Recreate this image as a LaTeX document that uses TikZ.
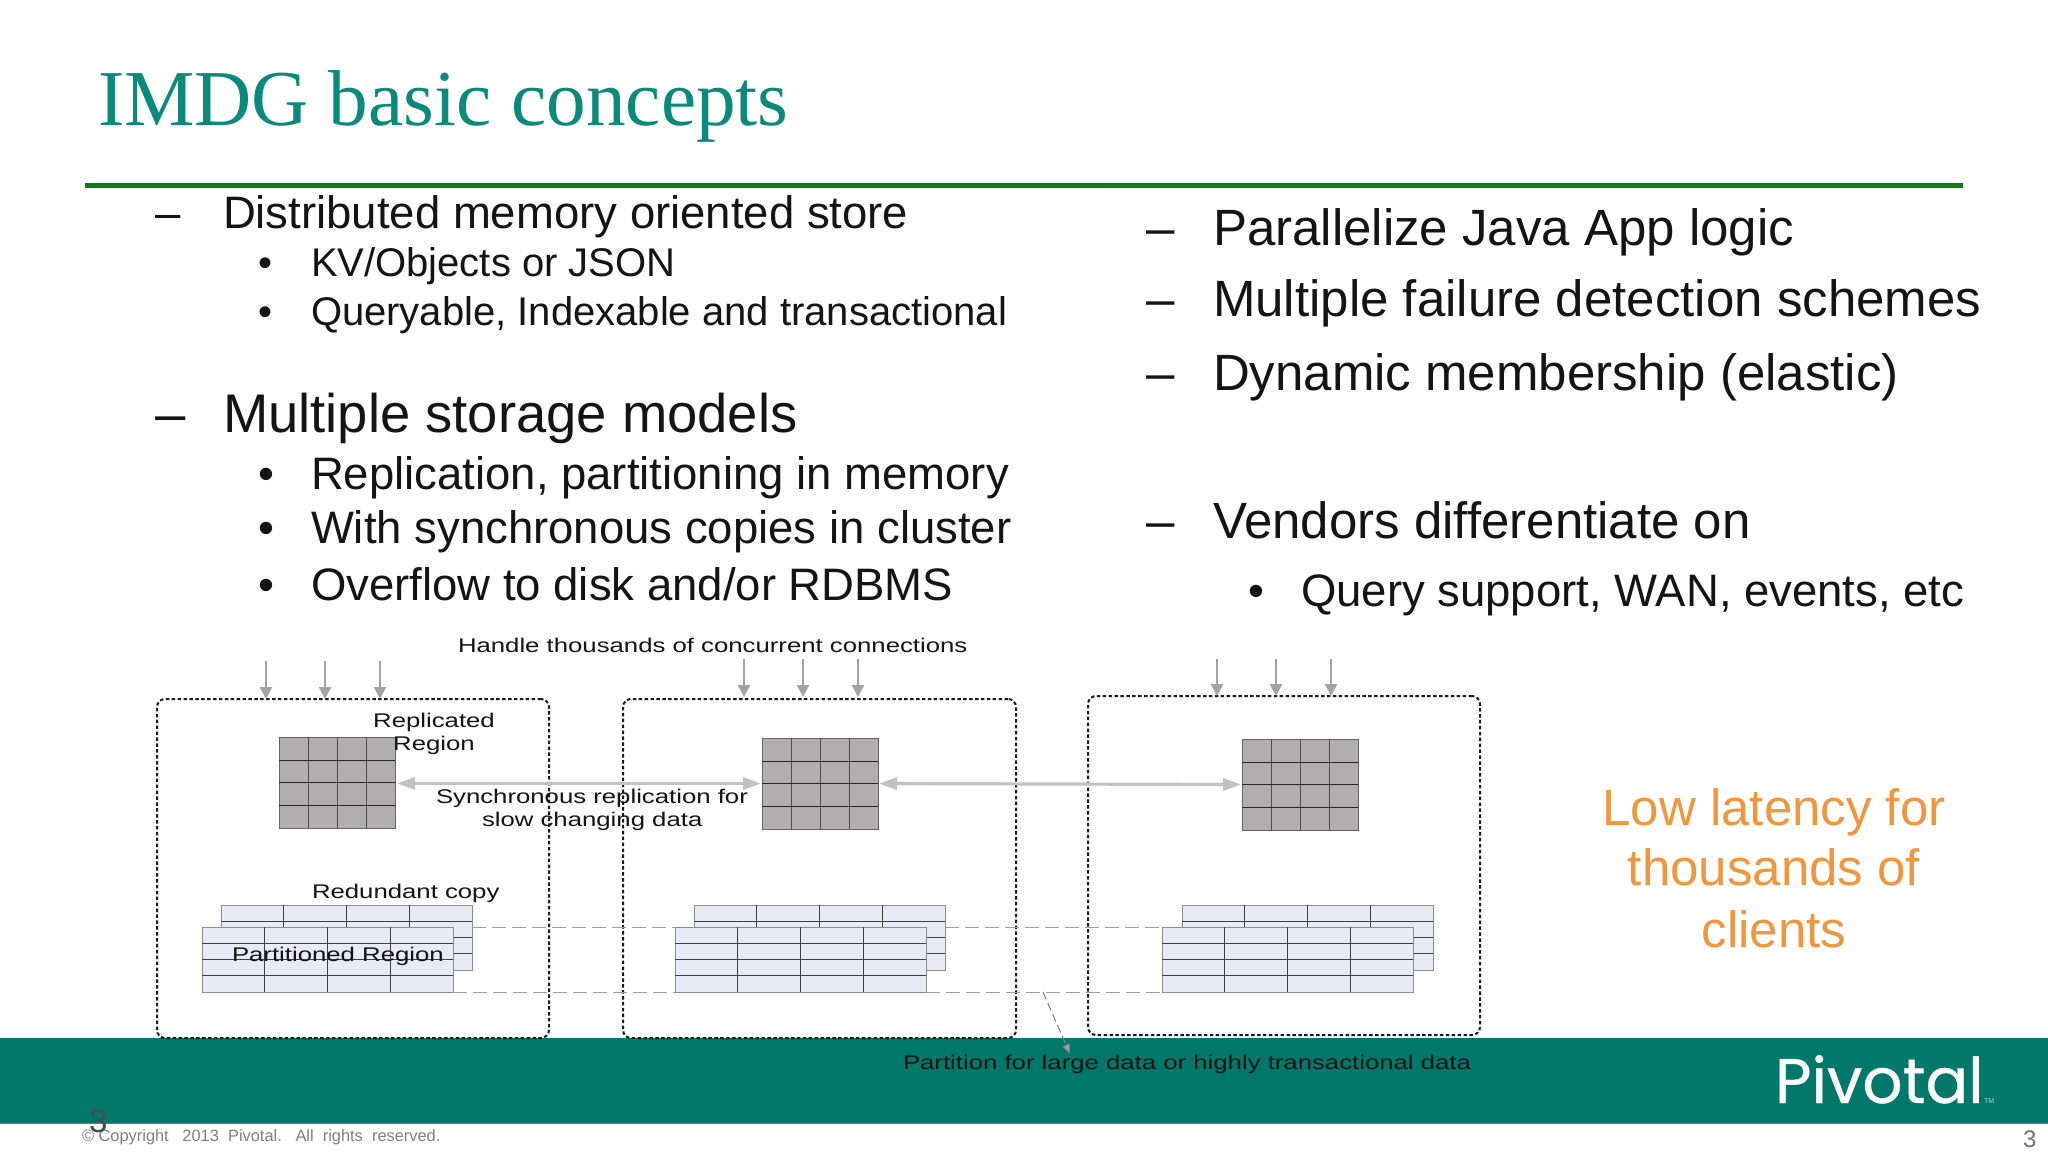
\documentclass[tikz,border=0pt]{standalone}
\usepackage{fontspec}
\setmainfont{Liberation Sans}
\newfontfamily\serifT{Liberation Serif}
\newfontfamily\wideF[FakeStretch=1.3]{Liberation Sans}
\newfontfamily\logoF[FakeBold=0.6]{Poppins}
\usetikzlibrary{arrows.meta,positioning}
\definecolor{titleteal}{HTML}{0B8A7C}
\definecolor{barteal}{HTML}{02786B}
\definecolor{rulegreen}{HTML}{0C7F12}
\definecolor{orangetxt}{HTML}{F0963F}
\definecolor{gridfill}{HTML}{B0AEAF}
\definecolor{tabfill}{HTML}{E8EBF5}
\definecolor{arrowgray}{HTML}{A3A3A3}
\definecolor{syncgray}{HTML}{C2C2C2}
\newcommand{\fs}[1]{\fontsize{#1}{#1}\selectfont}
\tikzset{
  x=1pt,y=-1pt,
  txt/.style={anchor=base west,inner sep=0pt,outer sep=0pt,text=black!92},
  ctxt/.style={anchor=base,inner sep=0pt,outer sep=0pt,text=black!92},
  l1/.style={txt,font=\fs{45.5}},
  l1b/.style={txt,font=\fs{54.4}},
  l1r/.style={txt,font=\fs{51}},
  l2/.style={txt,font=\fs{40}},
  l2b/.style={txt,font=\fs{45.5}},
  dia/.style={txt,font=\wideF\fs{19.8}},
  diac/.style={ctxt,font=\wideF\fs{19.8}},
  server/.style={draw=black!90,line width=2pt,dash pattern=on 3.5pt off 2.4pt,rounded corners=8pt,outer sep=0pt},
  conn/.style={draw=arrowgray,line width=2.4pt,-{Triangle[length=12pt,width=12pt]}},
  sync/.style={draw=syncgray,line width=3.2pt,{Triangle[length=18pt,width=12pt,fill=syncgray]}-{Triangle[length=18pt,width=12pt,fill=syncgray]}},
  part/.style={draw=black!38,line width=1pt,dash pattern=on 14pt off 6pt},
  gridbox/.style={draw=black!60,fill=gridfill,line width=1pt,minimum width=116pt,minimum height=91pt,inner sep=0pt,outer sep=0pt,anchor=north west},
  tabbox/.style={draw=black!45,fill=tabfill,line width=1pt,minimum width=251pt,minimum height=65pt,inner sep=0pt,outer sep=0pt,anchor=north west},
}
\newcommand{\gridat}[3]{%
  \node[gridbox] (#1) at (#2,#3) {};
  \foreach \d in {29,58,87}{\draw[black!70,line width=1pt] ([xshift=\d pt]#1.north west) -- ([xshift=\d pt]#1.south west);}
  \foreach \d in {23,45,68}{\draw[black!85,line width=1pt] ([yshift=-\d pt]#1.north west) -- ([yshift=-\d pt]#1.north east);}
}
\newcommand{\tabat}[3]{%
  \node[tabbox] (#1) at (#2,#3) {};
  \foreach \d in {62.75,125.5,188.25}{\draw[black!75,line width=1pt] ([xshift=\d pt]#1.north west) -- ([xshift=\d pt]#1.south west);}
  \foreach \d in {16.5,32,48.5}{\draw[black!75,line width=1pt] ([yshift=-\d pt]#1.north west) -- ([yshift=-\d pt]#1.north east);}
}
\begin{document}
\begin{tikzpicture}
\useasboundingbox (0,0) rectangle (2048,1152);
\fill[white] (0,0) rectangle (2048,1152);
\fill[black!0.5] (78,188) rectangle (1100,1038);
% title and rule
\node[txt,font=\serifT\fs{79.2},text=titleteal] (title) at (98,125) {IMDG basic concepts};
\fill[rulegreen] (85,183) rectangle (1963,188);
% left column
\node[l1] (d1) at (155,228) {–};
\node[l1] (t1) at (223,228) {Distributed memory oriented store};
\node[l2] (b1) at (258,276) {•};
\node[l2] (s1) at (311,276) {KV/Objects or JSON};
\node[l2] (b2) at (258,325) {•};
\node[l2] (s2) at (311,325) {Queryable, Indexable and transactional};
\node[l1b] (d2) at (155,432) {–};
\node[l1b] (t2) at (223,432) {Multiple storage models};
\node[l2b] (b3) at (258,489) {•};
\node[l2b] (s3) at (311,489) {Replication, partitioning in memory};
\node[l2b] (b4) at (258,543) {•};
\node[l2b] (s4) at (311,543) {With synchronous copies in cluster};
\node[l2b] (b5) at (258,600) {•};
\node[l2b] (s5) at (311,600) {Overflow to disk and/or RDBMS};
% right column
\node[l1r] (d3) at (1146,245) {–};
\node[l1r] (r1) at (1213,245) {Parallelize Java App logic};
\node[l1r] (d4) at (1146,316) {–};
\node[l1r] (r2) at (1213,316) {Multiple failure detection schemes};
\node[l1r] (d5) at (1146,390) {–};
\node[l1r] (r3) at (1213,390) {Dynamic membership (elastic)};
\node[l1r] (d6) at (1146,538) {–};
\node[l1r] (r4) at (1213,538) {Vendors differentiate on};
\node[l2b] (b6) at (1248,606) {•};
\node[l2b] (r5) at (1301,606) {Query support, WAN, events, etc};
% bar
\fill[barteal] (0,1038) rectangle (2048,1123);
\fill[black!0!cyan!40!barteal] (0,1123) rectangle (2048,1124);
% grids and tables
\gridat{g1}{279}{737}
\gridat{g2}{762}{738}
\gridat{g3}{1242}{739}
\tabat{bk1}{221}{905}
\tabat{fr1}{202}{927}
\tabat{bk2}{694}{905}
\tabat{fr2}{675}{927}
\tabat{bk3}{1182}{905}
\tabat{fr3}{1162}{927}
% servers
\node[server,minimum width=392pt,minimum height=339pt,inner sep=0pt,anchor=north west] (sv1) at (157,699) {};
\node[server,minimum width=393pt,minimum height=339pt,inner sep=0pt,anchor=north west] (sv2) at (623,699) {};
\node[server,minimum width=392pt,minimum height=339pt,inner sep=0pt,anchor=north west] (sv3) at (1088,696) {};
% client arrows
\coordinate (c11) at (266,661); \coordinate (c12) at (325,661); \coordinate (c13) at (380,661);
\coordinate (c21) at (744,659); \coordinate (c22) at (803,659); \coordinate (c23) at (858,659);
\coordinate (c31) at (1217,659); \coordinate (c32) at (1276,659); \coordinate (c33) at (1331,659);
\draw[conn] (c11) -- (sv1.north -| c11);
\draw[conn] (c12) -- (sv1.north -| c12);
\draw[conn] (c13) -- (sv1.north -| c13);
\draw[conn] (c21) -- ([yshift=2pt]sv2.north -| c21);
\draw[conn] (c22) -- ([yshift=2pt]sv2.north -| c22);
\draw[conn] (c23) -- ([yshift=2pt]sv2.north -| c23);
\draw[conn] (c31) -- (sv3.north -| c31);
\draw[conn] (c32) -- (sv3.north -| c32);
\draw[conn] (c33) -- (sv3.north -| c33);
% sync arrows
\draw[sync] ([xshift=2pt,yshift=-1pt]g1.east) -- ([xshift=-1pt]g2.west);
\draw[sync] ([xshift=1pt]g2.east) -- ([xshift=-1pt,yshift=0pt]g3.west);
% partition dashes
\draw[part] (bk1.east |- fr1.north) -- (fr2.north west);
\draw[part] (bk2.east |- fr2.north) -- (fr3.north west);
\draw[part] (fr1.south east) -- (fr2.south west);
\draw[part] (fr2.south east) -- (fr3.south west);
\coordinate (pk) at (1043,992);
\coordinate (pe) at (1070,1054);
\draw[draw=black!50,line width=1pt,dash pattern=on 8pt off 4pt,-{Triangle[length=10pt,width=8pt,fill=arrowgray]}] (pk) -- (pe);
% diagram labels
\node[dia] (lh) at (458,652) {Handle thousands of concurrent connections};
\node[diac] (lr1) at (434,727) {Replicated};
\node[diac] (lr2) at (434,750) {Region};
\node[dia] (ls1) at (436,803) {Synchronous replication for};
\node[dia] (ls2) at (482,826) {slow changing data};
\node[dia] (lc) at (312,898) {Redundant copy};
\node[dia] (lp) at (232,961) {Partitioned Region};
\node[dia] (lf) at (903,1069) {Partition for large data or highly transactional data};
% orange
\node[ctxt,font=\fs{51},text=orangetxt] (o1) at (1774,825) {Low latency for};
\node[ctxt,font=\fs{51},text=orangetxt] (o2) at (1774,885) {thousands of};
\node[ctxt,font=\fs{51},text=orangetxt] (o3) at (1774,947) {clients};
% logo
\node[txt,font=\logoF\fs{63},text=white] (logo) at (1775,1103) {Pivotal};
\node[txt,font=\fs{7},text=white!70!barteal] (tm) at (1984,1103) {TM};
% footer
\node[txt,font=\fs{16.4},text=black!50] (foot) at (82,1141) {© Copyright\ \ \ 2013\ \ Pivotal.\ \ \ All\ \ rights\ \ reserved.};
\node[txt,font=\fs{33},text=black!70] (pn1) at (89,1132) {3};
\node[txt,font=\fs{24},text=black!55] (pn2) at (2023,1147) {3};
\end{tikzpicture}
\end{document}
